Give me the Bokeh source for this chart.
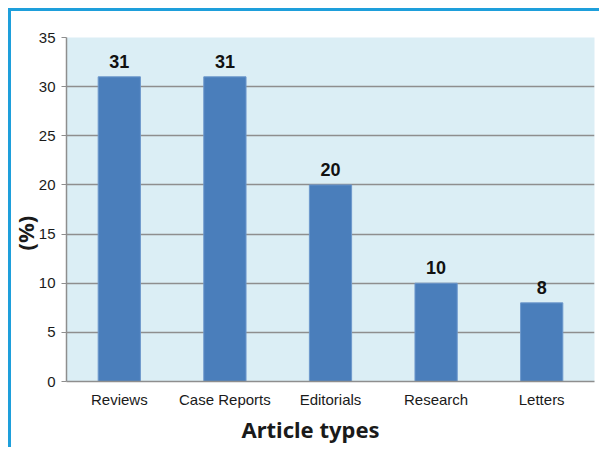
from bokeh.plotting import figure
from bokeh.models import ColumnDataSource, Range1d, FixedTicker, Title
from bokeh.core.properties import value
from bokeh.embed import file_html
from bokeh.resources import INLINE

categories = ["Reviews", "Case Reports", "Editorials", "Research", "Letters"]
values = [31, 31, 20, 10, 8]
y_ticks = [0, 5, 10, 15, 20, 25, 30, 35]
y_title = "(%)"
x_title = "Article types"

src = ColumnDataSource(dict(cat=categories, val=values, lab=[str(v) for v in values]))

p = figure(x_range=categories, y_range=Range1d(0, 35),
           width=591, height=439, output_backend="svg", toolbar_location=None,
           min_border_left=55, min_border_right=8, min_border_top=26, min_border_bottom=69)
p.styles = {"border-left": "3px solid #1e9fdb", "border-top": "3px solid #1e9fdb",
            "margin-left": "8px", "margin-top": "8px"}
p.x_range.range_padding = 0
p.background_fill_color = "#dbeef5"
p.border_fill_color = "white"
p.outline_line_color = None

p.vbar(x="cat", top="val", width=0.4, source=src, fill_color="#4a7ebb",
       line_color="#6d98cc", line_width=1)
p.text(x="cat", y="val", text="lab", source=src, y_offset=-9,
       text_align="center", text_baseline="bottom",
       text_font=value("Liberation Sans"), text_font_style="bold",
       text_font_size="18px", text_color="#111111")

p.xgrid.grid_line_color = None
p.ygrid.grid_line_color = "#8e8e8e"
p.ygrid.grid_line_width = 1.5
p.yaxis.ticker = FixedTicker(ticks=y_ticks)
p.yaxis.minor_tick_line_color = None
p.yaxis.major_tick_in = 0
p.yaxis.major_tick_out = 5
p.yaxis.major_tick_line_color = "#8e8e8e"
p.yaxis.axis_line_color = "#8e8e8e"
p.yaxis.axis_line_width = 1.5
p.yaxis.major_label_text_font = "Liberation Sans"
p.yaxis.major_label_text_font_size = "15px"
p.yaxis.major_label_text_color = "#1a1a1a"
p.yaxis.major_label_standoff = 6

p.xaxis.axis_line_color = "#8e8e8e"
p.xaxis.axis_line_width = 1.5
p.xaxis.major_tick_line_color = None
p.xaxis.minor_tick_line_color = None
p.xaxis.major_label_text_font = "Liberation Sans"
p.xaxis.major_label_text_font_size = "15px"
p.xaxis.major_label_text_color = "#1a1a1a"
p.xaxis.major_label_standoff = 3

p.add_layout(Title(text=x_title, align="left", offset=175, standoff=2,
                   text_font="Noto Sans", text_font_style="bold", text_font_size="22px",
                   text_color="#1a1a1a"), "below")
p.add_layout(Title(text=y_title, align="left", offset=131, standoff=-8,
                   text_font="Noto Sans", text_font_style="bold", text_font_size="22px",
                   text_color="#1a1a1a"), "left")

open("out.html", "w").write(file_html(p, INLINE))
